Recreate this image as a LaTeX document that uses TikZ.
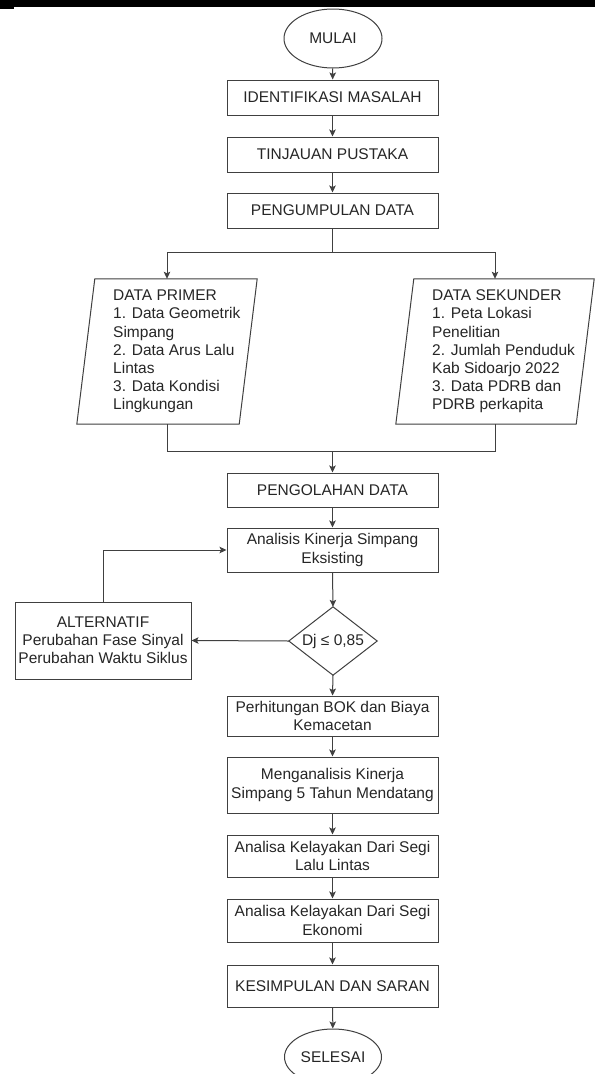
\documentclass[tikz,border=0pt]{standalone}
\usepackage{fontspec}
\setmainfont{Liberation Sans}
\usetikzlibrary{arrows.meta,shapes.geometric,calc}
\definecolor{linec}{HTML}{404040}
\definecolor{textc}{HTML}{262626}
\begin{document}
\begin{tikzpicture}[x=1pt,y=-1pt,
  line/.style={draw=linec,line width=1pt},
  arrow/.style={line,-{Stealth[length=7pt,width=6.5pt,inset=1.5pt]}},
  txt/.style={text=textc,font=\fontsize{15.5}{18.2}\selectfont},
  box/.style={line,txt,rectangle,minimum width=211pt,inner sep=0pt,align=center},
  term/.style={line,txt,ellipse,inner sep=0pt},
  pshape/.style={rectangle,inner sep=0pt,minimum height=145pt},
  ptext/.style={txt,align=left,inner sep=0pt,anchor=west},
  hold/.style={rectangle,inner sep=0pt}]
\useasboundingbox (0,0) rectangle (595,1074);
\fill[white] (0,0) rectangle (595,1074);
\clip (0,0) rectangle (595,1074);
\fill[black] (0,0) rectangle (595,7);
\fill[black] (0,7) rectangle (14,8.5);

\node[term,minimum width=98pt,minimum height=59pt] (mulai) at (333,38.5) {MULAI};
\node[box,minimum height=35pt] (ident) at (332.5,97.5) {IDENTIFIKASI MASALAH};
\node[box,minimum height=35pt] (tinj) at (332.5,154.5) {TINJAUAN PUSTAKA};
\node[box,minimum height=35pt] (peng) at (332.5,210.5) {PENGUMPULAN DATA};

\node[pshape,minimum width=180pt] (primer) at (167,351.5) {};
\draw[line] ([xshift=18pt]primer.north west) -- (primer.north east) -- ([xshift=-18pt]primer.south east) -- (primer.south west) -- cycle;
\node[ptext] (primertxt) at (113,351.5) {DATA PRIMER\\1. Data Geometrik\\Simpang\\2. Data Arus Lalu\\Lintas\\3. Data Kondisi\\Lingkungan};

\node[pshape,minimum width=198pt] (sekunder) at (495,351.5) {};
\draw[line] ([xshift=18pt]sekunder.north west) -- (sekunder.north east) -- ([xshift=-18pt]sekunder.south east) -- (sekunder.south west) -- cycle;
\node[ptext] (sekundertxt) at (432,351.5) {DATA SEKUNDER\\1. Peta Lokasi\\Penelitian\\2. Jumlah Penduduk\\Kab Sidoarjo 2022\\3. Data PDRB dan\\PDRB perkapita};

\node[box,minimum height=34pt] (olah) at (332.5,490) {PENGOLAHAN DATA};
\node[box,minimum height=44pt] (analisis) at (332.5,550) {Analisis Kinerja Simpang\\Eksisting};

\node[hold,txt,minimum width=88pt,minimum height=68pt] (dj) at (333,641) {Dj ≤ 0,85};
\draw[line] (dj.north) -- (dj.east) -- (dj.south) -- (dj.west) -- cycle;

\node[line,txt,rectangle,inner sep=0pt,align=center,minimum width=176pt,minimum height=77pt] (alt) at (103,640.5) {ALTERNATIF\\Perubahan Fase Sinyal\\Perubahan Waktu Siklus};

\node[box,minimum height=40pt] (bok) at (332.5,716) {Perhitungan BOK dan Biaya\\Kemacetan};
\node[box,minimum height=56pt] (mendatang) at (332.5,785) {Menganalisis Kinerja\\Simpang 5 Tahun Mendatang};
\node[box,minimum height=42pt] (lalu) at (332.5,856) {Analisa Kelayakan Dari Segi\\Lalu Lintas};
\node[box,minimum height=43pt] (ekon) at (332.5,920.5) {Analisa Kelayakan Dari Segi\\Ekonomi};
\node[box,minimum height=42pt] (kesimp) at (332.5,986) {KESIMPULAN DAN SARAN};
\node[term,minimum width=97pt,minimum height=56pt] (selesai) at (333,1057) {SELESAI};

\draw[arrow] (mulai) -- (ident);
\draw[arrow] (ident) -- (tinj);
\draw[arrow] (tinj) -- (peng);
\coordinate (split) at (332.5,252);
\draw[line] (peng.south) -- (split);
\draw[arrow] (split) -| (primer.north);
\draw[arrow] (split) -| (sekunder.north);
\coordinate (merge) at (332.5,451);
\draw[line] (primer.south) |- (merge);
\draw[line] (sekunder.south) |- (merge);
\draw[arrow] (merge) -- (olah.north);
\draw[arrow] (olah) -- (analisis);
\draw[arrow] (analisis.south) -- (dj.north);
\draw[arrow] (dj.west) -- (alt.east);
\draw[arrow] (alt.north) |- (analisis.west);
\draw[arrow] (dj.south) -- (bok.north);
\draw[arrow] (bok) -- (mendatang);
\draw[arrow] (mendatang) -- (lalu);
\draw[arrow] (lalu) -- (ekon);
\draw[arrow] (ekon) -- (kesimp);
\draw[arrow] (kesimp) -- (selesai);
\end{tikzpicture}
\end{document}
